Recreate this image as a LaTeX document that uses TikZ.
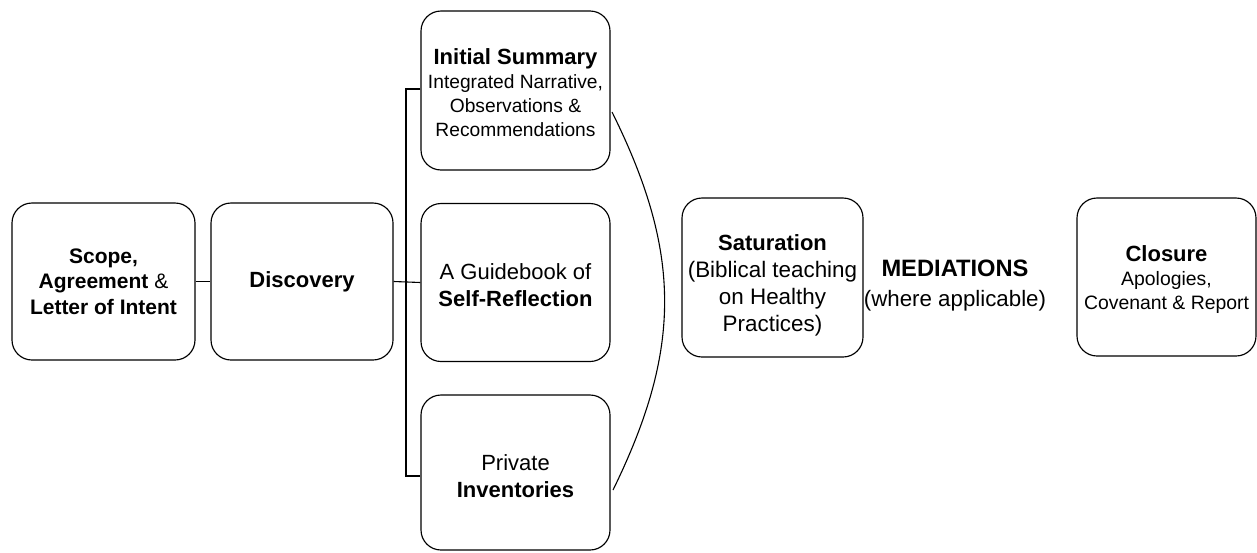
\documentclass[tikz,border=0pt]{standalone}
\usepackage{fontspec}
\setmainfont{Liberation Sans}
\begin{document}
\begin{tikzpicture}[x=1pt,y=-1pt]
\tikzset{
  stage/.style={draw=black, line width=1.15pt, rounded corners=20pt, align=center, inner sep=0pt},
  txt/.style={align=center, inner sep=0pt},
  conn/.style={line width=1.1pt},
  big/.style={font=\fontsize{22}{27}\selectfont},
  small/.style={font=\fontsize{19.2}{24}\selectfont}
}
\useasboundingbox (0,0) rectangle (1257,552);
\node[stage, font=\fontsize{21}{25.5}\selectfont, minimum width=183pt, minimum height=157pt] (scope) at (103.5,281.5)
  {\bfseries Scope,\\\bfseries Agreement \mdseries\&\\\bfseries Letter of Intent};
\node[stage, big, minimum width=182pt, minimum height=157pt] (disc) at (302,281.5)
  {\bfseries Discovery};
\node[stage, minimum width=189pt, minimum height=159pt] (init) at (515.5,90.5) {};
\node[txt, small] (initt) at ([yshift=-2.5pt]init.center)
  {{\fontsize{22}{24}\selectfont\bfseries Initial Summary}\\Integrated Narrative,\\Observations \&\\Recommendations};
\node[stage, minimum width=189pt, minimum height=158pt] (guide) at (515.5,282.5) {};
\node[txt, big] (guidet) at ([yshift=-2.5pt]guide.center)
  {A Guidebook of\\\textbf{Self-Reflection}};
\node[stage, minimum width=189pt, minimum height=155pt] (priv) at (515.5,472.5) {};
\node[txt, big] (privt) at ([yshift=-4pt]priv.center)
  {Private\\\textbf{Inventories}};
\node[stage, minimum width=181pt, minimum height=159pt] (sat) at (772.5,277.5) {};
\node[txt, font=\fontsize{22.4}{27}\selectfont] (satt) at ([yshift=-8pt]sat.center)
  {{\fontsize{22}{27}\selectfont\bfseries Saturation}\\(Biblical teaching\\on Healthy\\Practices)};
\node[txt, font=\fontsize{22.3}{30}\selectfont] (med) at (955,285.5)
  {{\fontsize{23.7}{30}\selectfont\bfseries MEDIATIONS}\\(where applicable)};
\node[stage, minimum width=179pt, minimum height=158pt] (clos) at (1166.5,277) {};
\node[txt, font=\fontsize{19.4}{24}\selectfont] (clost) at ([yshift=-2.5pt]clos.center)
  {{\fontsize{22}{24}\selectfont\bfseries Closure}\\Apologies,\\Covenant \& Report};
\draw[conn] (scope.east) -- (disc.west);
\draw[conn] (disc.east) -- (guide.west);
\coordinate (bt) at (406,89);
\coordinate (bb) at (406,476);
\draw[conn] (bt -| init.west) -- (bt) -- (bb) -- (bb -| priv.west);
\coordinate (ca) at (612,112);
\coordinate (cb) at (613,490);
\draw[conn] (ca) .. controls (682,253) and (682,349) .. (cb);
\end{tikzpicture}
\end{document}
